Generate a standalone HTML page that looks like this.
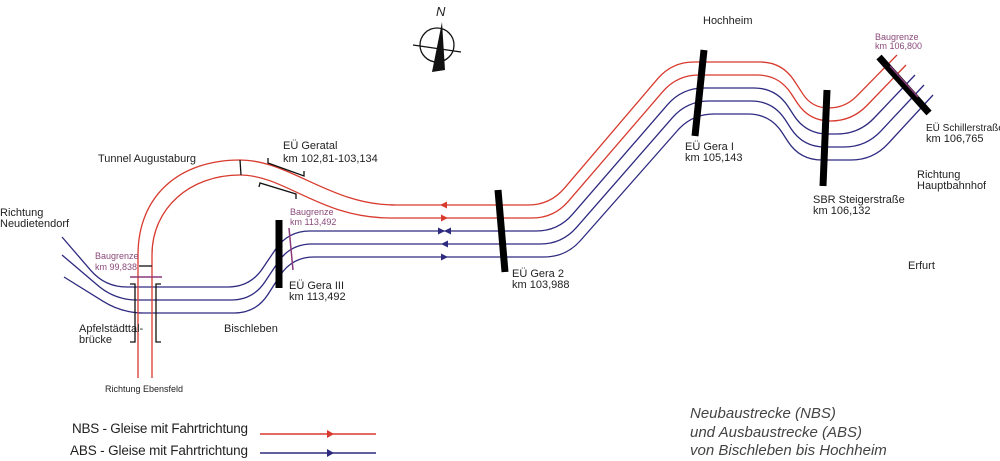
<!DOCTYPE html>
<html><head><meta charset="utf-8"><style>
html,body{margin:0;padding:0;background:#fff;}
svg{display:block}
text{font-family:"Liberation Sans",sans-serif;fill:#222;}
.s{font-size:11px}
.p{font-size:9px;fill:#8a4a7a}
.l{font-size:13.5px;fill:#222}
.i{font-size:15px;font-style:italic;fill:#444}
</style></head><body>
<svg id="sv" width="1000" height="461" viewBox="0 0 1000 461" xmlns="http://www.w3.org/2000/svg">
<g id="tracks" fill="none" stroke-width="1.3"></g>
<path d="M138 378 L138 255 C138 195 180 160 240 160 C290 160 330 205 395 205" fill="none" stroke="#d83a2e" stroke-width="1.3"/>
<path d="M152 378 L152 255 C152 208 190 175 240 175 C285 175 320 218 390 218" fill="none" stroke="#d83a2e" stroke-width="1.3"/>
<polygon points="440,205 447,201.5 447,208.5" fill="#d83a2e"/>
<polygon points="448,218 441,214.5 441,221.5" fill="#d83a2e"/>
<polygon points="445,231 438,227.5 438,234.5" fill="#2e2a80"/>
<polygon points="444,231 451,227.5 451,234.5" fill="#2e2a80"/>
<polygon points="441,244 448,240.5 448,247.5" fill="#2e2a80"/>
<polygon points="448,257 441,253.5 441,260.5" fill="#2e2a80"/>
<g stroke="#000" stroke-width="7" stroke-linecap="butt">
<line x1="279" y1="220" x2="279" y2="288"/>
<line x1="498" y1="190" x2="505" y2="272"/>
<line x1="704" y1="50" x2="695" y2="136"/>
<line x1="827" y1="90" x2="823" y2="186"/>
<line x1="879" y1="57" x2="929" y2="113"/>
</g>
<g stroke="#8a3a7a" stroke-width="1.5">
<line x1="130" y1="277" x2="162" y2="277"/>
<line x1="289" y1="228" x2="293" y2="270"/>
<line x1="890" y1="66" x2="918" y2="97"/>
</g>
<g fill="none" stroke="#111" stroke-width="1.3">
<polyline points="130,284 135,284 135,342 130,342"/>
<polyline points="161,284 156,284 156,342 161,342"/>
<line x1="139" y1="266" x2="152" y2="266"/>
<line x1="240" y1="160" x2="241" y2="175"/>
<polyline points="268,158 268,163 304,176 304,171"/>
<polyline points="259,187 260,183 296,194 296,199"/>
</g>
<g>
<circle cx="437" cy="45" r="17" fill="none" stroke="#111" stroke-width="1.3"/>
<line x1="413" y1="45" x2="461" y2="52" stroke="#111" stroke-width="1.2"/>
<polygon points="442,22 445,70 432,72" fill="#111"/>
<text x="436" y="16" style="font-size:13px;font-style:italic" fill="#111">N</text>
</g>
<text class="s" x="98" y="162">Tunnel Augustaburg</text>
<text class="s" x="283" y="149">EÜ Geratal</text>
<text class="s" x="283" y="162">km 102,81-103,134</text>
<text class="s" x="0" y="216">Richtung</text>
<text class="s" x="0" y="227">Neudietendorf</text>
<text class="p" x="95" y="259">Baugrenze</text>
<text class="p" x="95" y="270">km 99,838</text>
<text class="p" x="290" y="215">Baugrenze</text>
<text class="p" x="290" y="225">km 113,492</text>
<text class="s" x="289" y="289">EÜ Gera III</text>
<text class="s" x="289" y="300">km 113,492</text>
<text class="s" x="79" y="332">Apfelstädttal-</text>
<text class="s" x="79" y="343">brücke</text>
<text class="s" x="224" y="332">Bischleben</text>
<text x="105" y="392" style="font-size:9px">Richtung Ebensfeld</text>
<text class="s" x="512" y="277">EÜ Gera 2</text>
<text class="s" x="512" y="288">km 103,988</text>
<text class="s" x="703" y="24">Hochheim</text>
<text class="p" x="875" y="40">Baugrenze</text>
<text class="p" x="875" y="49">km 106,800</text>
<text class="s" x="685" y="150">EÜ Gera I</text>
<text class="s" x="685" y="161">km 105,143</text>
<text x="926" y="131" style="font-size:10px">EÜ Schillerstraße</text>
<text class="s" x="926" y="142">km 106,765</text>
<text class="s" x="917" y="178">Richtung</text>
<text class="s" x="917" y="189">Hauptbahnhof</text>
<text class="s" x="813" y="203">SBR Steigerstraße</text>
<text class="s" x="813" y="214">km 106,132</text>
<text class="s" x="908" y="269">Erfurt</text>
<text class="l" x="72" y="433" textLength="176">NBS - Gleise mit Fahrtrichtung</text>
<text class="l" x="70" y="455" textLength="178">ABS -  Gleise mit Fahrtrichtung</text>
<line x1="260" y1="434" x2="376" y2="434" stroke="#d83a2e" stroke-width="1.6"/>
<polygon points="334,434 327,430 327,438" fill="#d83a2e"/>
<line x1="260" y1="453" x2="376" y2="453" stroke="#2e2a80" stroke-width="1.6"/>
<polygon points="334,453 327,449 327,457" fill="#2e2a80"/>
<text class="i" x="690" y="418">Neubaustrecke (NBS)</text>
<text class="i" x="690" y="437">und Ausbaustrecke (ABS)</text>
<text class="i" x="690" y="455">von Bischleben bis Hochheim</text>
</svg>
<script>
(function(){
function rp(pts,r){
 var d="M"+pts[0][0]+" "+pts[0][1];
 for(var k=1;k<pts.length-1;k++){
  var p=pts[k-1],c=pts[k],n=pts[k+1];
  var v1=[p[0]-c[0],p[1]-c[1]],v2=[n[0]-c[0],n[1]-c[1]];
  var l1=Math.hypot(v1[0],v1[1]),l2=Math.hypot(v2[0],v2[1]);
  var rr=Math.min(r,l1/2,l2/2);
  var a=[c[0]+v1[0]/l1*rr,c[1]+v1[1]/l1*rr],b=[c[0]+v2[0]/l2*rr,c[1]+v2[1]/l2*rr];
  d+=" L"+a[0].toFixed(1)+" "+a[1].toFixed(1)+" Q"+c[0]+" "+c[1]+" "+b[0].toFixed(1)+" "+b[1].toFixed(1);
 }
 var e=pts[pts.length-1];d+=" L"+e[0]+" "+e[1];return d;
}
var g=document.getElementById("tracks"),ns="http://www.w3.org/2000/svg";
for(var i=0;i<5;i++){
 var y=205+13*i,yh=62+13*i;
 var right=[[550+4*i,y],[672+5*i,yh],[782-3*i,yh],[812-3*i,108+13*i],[845+7*i,108+13*i],[897+9*i,55+10*i]];
 var pts;
 if(i<2){pts=[[390,y]].concat(right);}
 else{var k=i-2;
  var st=[[62,237],[62,255],[64,277]][k];
  var fl=[[105,287],[115,300],[122,313]][k];
  pts=[st,fl,[250+3*k,287+13*k],[288+2*k,231+13*k]].concat(right);}
 var p=document.createElementNS(ns,"path");
 p.setAttribute("d",rp(pts,22));
 p.setAttribute("stroke",i<2?"#d83a2e":"#2e2a80");
 g.appendChild(p);
}
})();
</script>
</body></html>
